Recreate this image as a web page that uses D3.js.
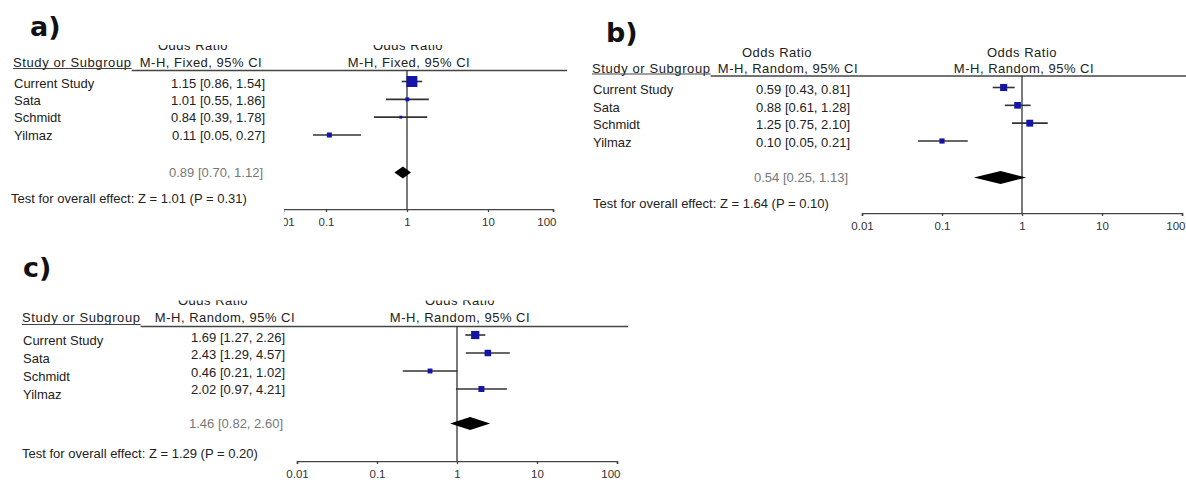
<!DOCTYPE html>
<html>
<head>
<meta charset="utf-8">
<script src="https://cdn.jsdelivr.net/npm/d3@7"></script>
<style>
  html, body { margin: 0; padding: 0; background: #fff; }
  svg { display: block; font-family: 'Liberation Sans', Arial, sans-serif; }
</style>
</head>
<body>
<div id="chart"></div>
<script>
const W = 1186, H = 480;

const studies = ['Current Study', 'Sata', 'Schmidt', 'Yilmaz'];
const axisTicks = [0.01, 0.1, 1, 10, 100];
const axisTickLabels = ['0.01', '0.1', '1', '10', '100'];

// a) M-H fixed
const orA = [1.15, 1.01, 0.84, 0.11];
const lowA = [0.86, 0.55, 0.39, 0.05];
const highA = [1.54, 1.86, 1.78, 0.27];
const weightA = [71, 9, 5, 15];
const pooledA = [0.89, 0.70, 1.12];
const testA = ['1.01', '0.31'];

// b) M-H random
const orB = [0.59, 0.88, 1.25, 0.10];
const lowB = [0.43, 0.61, 0.75, 0.05];
const highB = [0.81, 1.28, 2.10, 0.21];
const weightB = [30, 26, 28, 16];
const pooledB = [0.54, 0.25, 1.13];
const testB = ['1.64', '0.10'];

// c) M-H random
const orC = [1.69, 2.43, 0.46, 2.02];
const lowC = [1.27, 1.29, 0.21, 0.97];
const highC = [2.26, 4.57, 1.02, 4.21];
const weightC = [40, 25, 14, 21];
const pooledC = [1.46, 0.82, 2.60];
const testC = ['1.29', '0.20'];

const f2 = d3.format('.2f');
const FS = 13;
const TXT = '#222';

const svg = d3.select('#chart')
    .append('svg')
        .attr('width', W)
        .attr('height', H);

const size = d3.scaleSqrt().domain([0, 100]).range([0, 13]);

function drawPanel(p, or, low, high, weight, pooled, test) {
    const g = svg.append('g');

    // log axis built as a linear scale over log10 values (panel a is squeezed unevenly)
    const x = d3.scaleLinear().domain(axisTicks.map(Math.log10)).range(p.tickPx);
    const xv = v => x(Math.log10(v));

    const yMark = d3.scalePoint().domain(studies).range(p.markRows);
    const yName = d3.scalePoint().domain(studies).range(p.nameRows);
    const yVal = d3.scalePoint().domain(studies).range(p.valueRows);

    g.append('text')
        .attr('x', p.labelX)
        .attr('y', p.labelY)
        .attr('font-family', 'DejaVu Sans')
        .attr('font-weight', 'bold')
        .attr('font-size', 27)
        .attr('fill', '#111')
        .text(p.label);

    // headers
    const clipId = 'clip-' + p.label[0];
    svg.append('clipPath').attr('id', clipId)
        .append('rect').attr('x', 0).attr('y', p.clipTop).attr('width', W).attr('height', H);

    const head = g.append('g')
        .attr('font-size', FS)
        .attr('letter-spacing', 0.5)
        .attr('fill', TXT)
        .attr('text-anchor', 'middle');

    head.append('g').attr('clip-path', `url(#${clipId})`)
        .selectAll('text')
        .data(p.orHeadX)
        .join('text')
            .attr('x', d => d)
            .attr('y', p.headY1)
            .text('Odds Ratio');

    head.selectAll('.mh')
        .data(p.mhHeadX)
        .join('text')
            .attr('class', 'mh')
            .attr('x', d => d)
            .attr('y', p.headY2)
            .text(p.method);

    const sub = g.append('text')
        .attr('x', p.nameX)
        .attr('y', p.headY2)
        .attr('font-size', FS)
        .attr('letter-spacing', 0.6)
        .attr('fill', TXT)
        .text('Study or Subgroup');
    const subEnd = p.nameX + sub.node().getComputedTextLength();

    g.append('line')
        .attr('x1', p.nameX).attr('x2', subEnd)
        .attr('y1', p.lineY - 2).attr('y2', p.lineY - 2)
        .attr('stroke', '#444').attr('stroke-width', 1);
    g.append('line')
        .attr('x1', subEnd).attr('x2', p.lineEnd)
        .attr('y1', p.lineY).attr('y2', p.lineY)
        .attr('stroke', '#444').attr('stroke-width', 1.6);

    // study names and values
    g.append('g')
        .attr('font-size', FS)
        .attr('fill', TXT)
        .selectAll('text')
        .data(studies)
        .join('text')
            .attr('x', p.nameX + 1)
            .attr('y', d => yName(d))
            .attr('dy', '0.35em')
            .text(d => d);

    g.append('g')
        .attr('font-size', FS)
        .attr('fill', TXT)
        .attr('text-anchor', 'end')
        .selectAll('text')
        .data(studies)
        .join('text')
            .attr('x', p.valueX)
            .attr('y', d => yVal(d))
            .attr('dy', '0.35em')
            .text((d, i) => `${f2(or[i])} [${f2(low[i])}, ${f2(high[i])}]`);

    g.append('text')
        .attr('x', p.valueX - 2)
        .attr('y', p.pooledY)
        .attr('dy', '0.35em')
        .attr('font-size', FS)
        .attr('fill', '#777')
        .attr('text-anchor', 'end')
        .text(`${f2(pooled[0])} [${f2(pooled[1])}, ${f2(pooled[2])}]`);

    g.append('text')
        .attr('x', p.testX)
        .attr('y', p.testY)
        .attr('dy', '0.35em')
        .attr('font-size', FS)
        .attr('fill', TXT)
        .text(`Test for overall effect: Z = ${test[0]} (P = ${test[1]})`);

    // line of no effect
    g.append('line')
        .attr('x1', xv(1)).attr('x2', xv(1))
        .attr('y1', p.lineY).attr('y2', p.axisY)
        .attr('stroke', '#333').attr('stroke-width', 1.3);

    // confidence intervals
    g.append('g')
        .selectAll('line')
        .data(studies)
        .join('line')
            .attr('x1', (d, i) => xv(low[i]))
            .attr('x2', (d, i) => xv(high[i]))
            .attr('y1', d => yMark(d))
            .attr('y2', d => yMark(d))
            .attr('stroke', '#333')
            .attr('stroke-width', 1.6);

    g.append('g')
        .selectAll('rect')
        .data(studies)
        .join('rect')
            .attr('x', (d, i) => xv(or[i]) - size(weight[i]) / 2)
            .attr('y', (d, i) => yMark(d) - size(weight[i]) / 2)
            .attr('width', (d, i) => size(weight[i]))
            .attr('height', (d, i) => size(weight[i]))
            .attr('fill', '#1414a6');

    // pooled diamond
    const dh = p.diamondH;
    g.append('path')
        .attr('d', d3.line()([
            [xv(pooled[1]), p.pooledY],
            [xv(pooled[0]), p.pooledY - dh],
            [xv(pooled[2]), p.pooledY],
            [xv(pooled[0]), p.pooledY + dh]
        ]) + 'Z')
        .attr('fill', '#000');

    // axis
    const axisClip = 'axclip-' + p.label[0];
    svg.append('clipPath').attr('id', axisClip)
        .append('rect').attr('x', p.axisClipX).attr('y', 0).attr('width', W).attr('height', H);

    const ax = g.append('g')
        .attr('transform', `translate(0,${p.axisY})`)
        .attr('clip-path', `url(#${axisClip})`)
        .call(d3.axisBottom(x)
            .tickValues(axisTicks.map(Math.log10))
            .tickFormat((d, i) => axisTickLabels[i])
            .tickSizeOuter(0)
            .tickSize(3)
            .tickPadding(6));
    ax.select('.domain').attr('stroke', '#444').attr('stroke-width', 1.5);
    ax.selectAll('.tick line').attr('y1', -3).attr('y2', 3).attr('stroke', '#444').attr('stroke-width', 1.3);
    ax.selectAll('.tick text')
        .attr('font-family', 'Liberation Sans, Arial, sans-serif')
        .attr('font-size', 11.5)
        .attr('fill', '#333');
    ax.selectAll('.tick:last-of-type text')
        .attr('text-anchor', 'end')
        .attr('dx', 3);
}

drawPanel({
    label: 'a)', labelX: 30, labelY: 36,
    method: 'M-H, Fixed, 95% CI',
    clipTop: 45, headY1: 49.5, headY2: 66.5,
    orHeadX: [193, 408], mhHeadX: [201, 409],
    nameX: 13, lineY: 70.5, lineEnd: 567,
    nameRows: [83, 135], valueRows: [83, 135], markRows: [81.5, 135],
    valueX: 265, pooledY: 172.5, testX: 11, testY: 198,
    tickPx: [283, 326, 407, 488, 553], axisY: 209, axisClipX: 284,
    diamondH: 6
}, orA, lowA, highA, weightA, pooledA, testA);

drawPanel({
    label: 'b)', labelX: 606, labelY: 42,
    method: 'M-H, Random, 95% CI',
    clipTop: 0, headY1: 56.5, headY2: 73,
    orHeadX: [777, 1022], mhHeadX: [788, 1024],
    nameX: 592, lineY: 76, lineEnd: 1186,
    nameRows: [89.5, 142], valueRows: [89.5, 142], markRows: [87.5, 141],
    valueX: 850, pooledY: 177.5, testX: 593, testY: 203.5,
    tickPx: [862, 942, 1022, 1102, 1182], axisY: 213, axisClipX: 0,
    diamondH: 6.5
}, orB, lowB, highB, weightB, pooledB, testB);

drawPanel({
    label: 'c)', labelX: 23, labelY: 277,
    method: 'M-H, Random, 95% CI',
    clipTop: 300.5, headY1: 304.5, headY2: 322,
    orHeadX: [213, 460], mhHeadX: [225, 460],
    nameX: 22, lineY: 326.5, lineEnd: 628,
    nameRows: [340, 394], valueRows: [337.5, 389.5], markRows: [335, 389],
    valueX: 285, pooledY: 423.5, testX: 22, testY: 453,
    tickPx: [297, 377, 457, 537, 617], axisY: 461, axisClipX: 0,
    diamondH: 6.5
}, orC, lowC, highC, weightC, pooledC, testC);
</script>
</body>
</html>
